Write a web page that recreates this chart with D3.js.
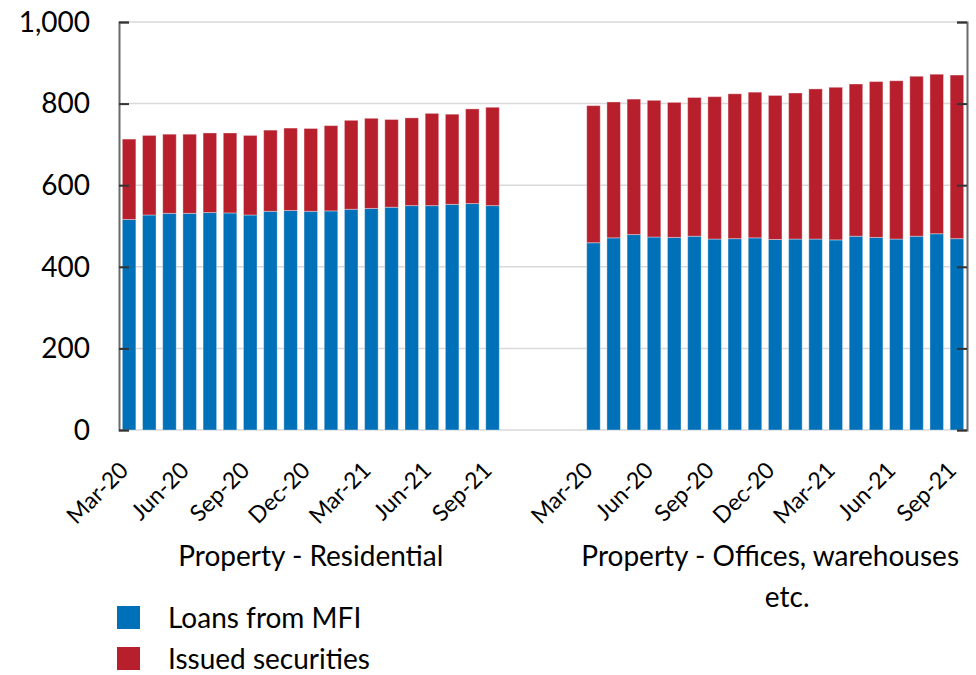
<!DOCTYPE html>
<html>
<head>
<meta charset="utf-8">
<script src="https://cdn.jsdelivr.net/npm/d3@7"></script>
<style>
  body { margin: 0; background: #fff; }
  svg text { font-family: Lato, "Open Sans", sans-serif; fill: #000; }
</style>
</head>
<body>
<div id="chart"></div>
<script>
// dimensions
const width = 976;
const height = 675;

// data (values in the unit of the y axis)
const months = ["Mar-20","Apr-20","May-20","Jun-20","Jul-20","Aug-20","Sep-20","Oct-20","Nov-20","Dec-20",
                "Jan-21","Feb-21","Mar-21","Apr-21","May-21","Jun-21","Jul-21","Aug-21","Sep-21"];
const tickMonths = ["Mar-20","Jun-20","Sep-20","Dec-20","Mar-21","Jun-21","Sep-21"];
const groups = ["Property - Residential", "Property - Offices, warehouses etc."];
const seriesNames = ["Loans from MFI", "Issued securities"];
const seriesColors = ["#0070b8", "#b81f2d"];

const residentialLoans = [516,527,531,531,533,532,527,536,538,536,537,541,543,546,550,550,553,555,550];
const residentialSecurities = [197,195,194,194,195,196,195,199,202,203,209,218,221,215,215,226,221,232,241];
const officesLoans = [459,471,479,473,472,475,468,469,471,467,468,468,466,475,472,468,475,481,469];
const officesSecurities = [336,333,332,335,331,340,349,355,357,353,358,368,374,373,382,388,392,391,401];

const yTicks = [0, 200, 400, 600, 800, 1000];

// build rows: one per bar, plus 4 empty slots between the two groups
const rows = [];
months.forEach((m, i) => rows.push({ key: "R|" + m, month: m, group: 0,
    "Loans from MFI": residentialLoans[i], "Issued securities": residentialSecurities[i] }));
const gapKeys = ["gap1", "gap2", "gap3", "gap4"];
months.forEach((m, i) => rows.push({ key: "O|" + m, month: m, group: 1,
    "Loans from MFI": officesLoans[i], "Issued securities": officesSecurities[i] }));

const plot = { left: 119, right: 967, top: 22, bottom: 430 };

const x = d3.scaleBand()
    .domain([...rows.filter(r => r.group === 0).map(r => r.key), ...gapKeys,
             ...rows.filter(r => r.group === 1).map(r => r.key)])
    .range([plot.left, plot.right])
    .paddingInner(0.33)
    .paddingOuter(0.165);

const y = d3.scaleLinear()
    .domain([0, 1000])
    .range([plot.bottom, plot.top]);

const color = d3.scaleOrdinal().domain(seriesNames).range(seriesColors);

const svg = d3.select("#chart").append("svg")
    .attr("width", width)
    .attr("height", height);

// gridlines
svg.append("g")
    .selectAll("line")
    .data(yTicks)
    .join("line")
    .attr("x1", plot.left)
    .attr("x2", plot.right)
    .attr("y1", d => y(d))
    .attr("y2", d => y(d))
    .attr("stroke", "#d9d9d9")
    .attr("stroke-width", 1.5);

// stacked bars
const stacked = d3.stack().keys(seriesNames)(rows);

svg.append("g")
    .selectAll("g")
    .data(stacked)
    .join("g")
    .attr("fill", d => color(d.key))
    .selectAll("rect")
    .data(d => d)
    .join("rect")
    .attr("x", d => x(d.data.key))
    .attr("y", d => y(d[1]))
    .attr("width", x.bandwidth())
    .attr("height", d => y(d[0]) - y(d[1]))
    .attr("stroke", "#fff")
    .attr("stroke-opacity", 0.35)
    .attr("stroke-width", 1);

// left & right axes (ticks pointing inward)
const yAxisLeft = d3.axisRight(y).tickValues(yTicks).tickSize(10).tickFormat("");
const yAxisRight = d3.axisLeft(y).tickValues(yTicks).tickSize(10).tickFormat("");

svg.append("g")
    .attr("transform", `translate(${plot.left},0)`)
    .call(yAxisLeft)
    .call(g => g.select(".domain").attr("stroke", "#6b6b6b").attr("stroke-width", 2))
    .call(g => g.selectAll(".tick line").attr("stroke", "#333").attr("stroke-width", 2));

svg.append("g")
    .attr("transform", `translate(${plot.right},0)`)
    .call(yAxisRight)
    .call(g => g.select(".domain").attr("stroke", "#6b6b6b").attr("stroke-width", 2))
    .call(g => g.selectAll(".tick line").attr("stroke", "#333").attr("stroke-width", 2));

// y tick labels
svg.append("g")
    .selectAll("text")
    .data(yTicks)
    .join("text")
    .attr("x", 90)
    .attr("y", d => y(d))
    .attr("dy", "0.35em")
    .attr("text-anchor", "end")
    .style("font-size", "28px")
    .text(d => d3.format(",")(d));

// x tick labels (rotated)
const tickRows = rows.filter(r => tickMonths.includes(r.month));
svg.append("g")
    .selectAll("text")
    .data(tickRows)
    .join("text")
    .attr("transform", d => `translate(${x(d.key) + x.bandwidth() / 2 - 5},${plot.bottom + 36}) rotate(-45)`)
    .attr("text-anchor", "end")
    .attr("dy", "0.35em")
    .style("font-size", "23px")
    .text(d => d.month);

// group labels
const groupCenter = gi => {
    const keys = rows.filter(r => r.group === gi).map(r => r.key);
    return (x(keys[0]) + x(keys[keys.length - 1]) + x.bandwidth()) / 2;
};
svg.append("text")
    .attr("x", groupCenter(0))
    .attr("y", 566)
    .attr("text-anchor", "middle")
    .style("font-size", "28px")
    .text(groups[0]);

const g2 = svg.append("text")
    .attr("x", groupCenter(1))
    .attr("y", 566)
    .attr("text-anchor", "middle")
    .style("font-size", "28px");
g2.append("tspan").attr("x", groupCenter(1) - 5).text("Property - Offices, warehouses");
g2.append("tspan").attr("x", groupCenter(1) + 12).attr("dy", 41).text("etc.");

// legend
const legend = svg.append("g")
    .selectAll("g")
    .data(seriesNames)
    .join("g")
    .attr("transform", (d, i) => `translate(117,${606 + i * 41})`);

legend.append("rect")
    .attr("width", 23)
    .attr("height", 23)
    .attr("fill", d => color(d));

legend.append("text")
    .attr("x", 51)
    .attr("y", 22)
    .style("font-size", "28px")
    .text(d => d);
</script>
</body>
</html>
